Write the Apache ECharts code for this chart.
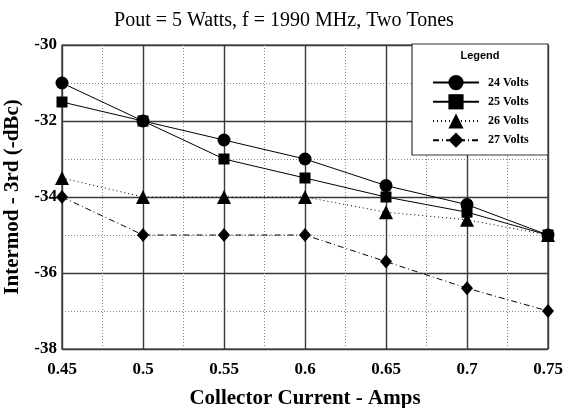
<!DOCTYPE html>
<html>
<head>
<meta charset="utf-8">
<script src="https://cdn.jsdelivr.net/npm/echarts@6/dist/echarts.min.js"></script>
<style>html,body{margin:0;padding:0;background:#fff}#c{width:567px;height:408px}</style>
</head>
<body>
<div id="c"></div>
<script>
const titleText = 'Pout = 5 Watts, f = 1990 MHz, Two Tones';
const xName = 'Collector Current - Amps';
const yName = 'Intermod - 3rd (-dBc)';
const currents = [0.45, 0.5, 0.55, 0.6, 0.65, 0.7, 0.75];
const seriesNames = ['24 Volts', '25 Volts', '26 Volts', '27 Volts'];
const volts24 = [-31, -32, -32.5, -33, -33.7, -34.2, -35];
const volts25 = [-31.5, -32, -33, -33.5, -34, -34.4, -35];
const volts26 = [-33.5, -34, -34, -34, -34.4, -34.6, -35];
const volts27 = [-34, -35, -35, -35, -35.7, -36.4, -37];

const serif = "'Liberation Serif', 'Times New Roman', serif";
const pair = arr => currents.map((x, i) => [x, arr[i]]);

const chart = echarts.init(document.getElementById('c'), null, {renderer: 'canvas'});
chart.setOption({
  animation: false,
  backgroundColor: '#fff',
  title: {
    text: titleText, left: 279, top: 6, textAlign: 'center',
    textStyle: {fontFamily: serif, fontWeight: 'normal', fontSize: 20, color: '#000'}
  },
  grid: {left: 62, right: 19, top: 45, bottom: 59, show: true, borderColor: '#222', borderWidth: 1.2,
         containLabel: false, outerBoundsMode: 'none'},
  xAxis: {
    type: 'value', min: 0.45, max: 0.75, interval: 0.05,
    name: xName, nameLocation: 'middle', nameGap: 39,
    nameTextStyle: {fontFamily: serif, fontWeight: 'bold', fontSize: 21, color: '#000'},
    axisLine: {show: false}, axisTick: {show: false},
    axisLabel: {fontFamily: serif, fontWeight: 'bold', fontSize: 17, color: '#000', margin: 12},
    splitLine: {show: true, lineStyle: {color: '#3a3a3a', width: 1.4}},
    minorTick: {show: false, splitNumber: 2},
    minorSplitLine: {show: true, lineStyle: {color: '#888', width: 1, type: [1, 2]}}
  },
  yAxis: {
    type: 'value', min: -38, max: -30, interval: 2,
    name: yName, nameLocation: 'middle', nameGap: 36,
    nameTextStyle: {fontFamily: serif, fontWeight: 'bold', fontSize: 21, color: '#000'},
    axisLine: {show: false}, axisTick: {show: false},
    axisLabel: {fontFamily: serif, fontWeight: 'bold', fontSize: 17, color: '#000', margin: 5},
    splitLine: {show: true, lineStyle: {color: '#3a3a3a', width: 1.4}},
    minorTick: {show: false, splitNumber: 2},
    minorSplitLine: {show: true, lineStyle: {color: '#888', width: 1, type: [1, 2]}}
  },
  graphic: [
    {type: 'rect', z: 50, shape: {x: 412, y: 44, width: 136, height: 111},
     style: {fill: '#fff', stroke: '#333', lineWidth: 1.2}},
    {type: 'text', z: 51, style: {x: 480, y: 56, text: 'Legend', align: 'center', verticalAlign: 'middle',
      font: "bold 11px 'Liberation Sans', Arial, sans-serif", fill: '#000'}}
  ],
  legend: {
    z: 60, orient: 'vertical', left: 427, top: 70,
    itemWidth: 46, itemHeight: 19, itemGap: 4,
    data: seriesNames,
    textStyle: {fontFamily: serif, fontWeight: 'bold', fontSize: 12, color: '#000', padding: [0, 0, 0, 4]}
  },
  series: [
    {name: seriesNames[0], type: 'line', data: pair(volts24), symbol: 'circle', symbolSize: 13,
     itemStyle: {color: '#000'}, lineStyle: {color: '#000', width: 1}},
    {name: seriesNames[1], type: 'line', data: pair(volts25), symbol: 'rect', symbolSize: 11,
     itemStyle: {color: '#000'}, lineStyle: {color: '#000', width: 1}},
    {name: seriesNames[2], type: 'line', data: pair(volts26), symbol: 'triangle', symbolSize: 14,
     itemStyle: {color: '#000'}, lineStyle: {color: '#000', width: 1, type: [1, 3]}},
    {name: seriesNames[3], type: 'line', data: pair(volts27), symbol: 'diamond', symbolSize: [12, 14],
     itemStyle: {color: '#000'}, lineStyle: {color: '#000', width: 1, type: [6, 3, 1, 3]}}
  ]
});
</script>
</body>
</html>
